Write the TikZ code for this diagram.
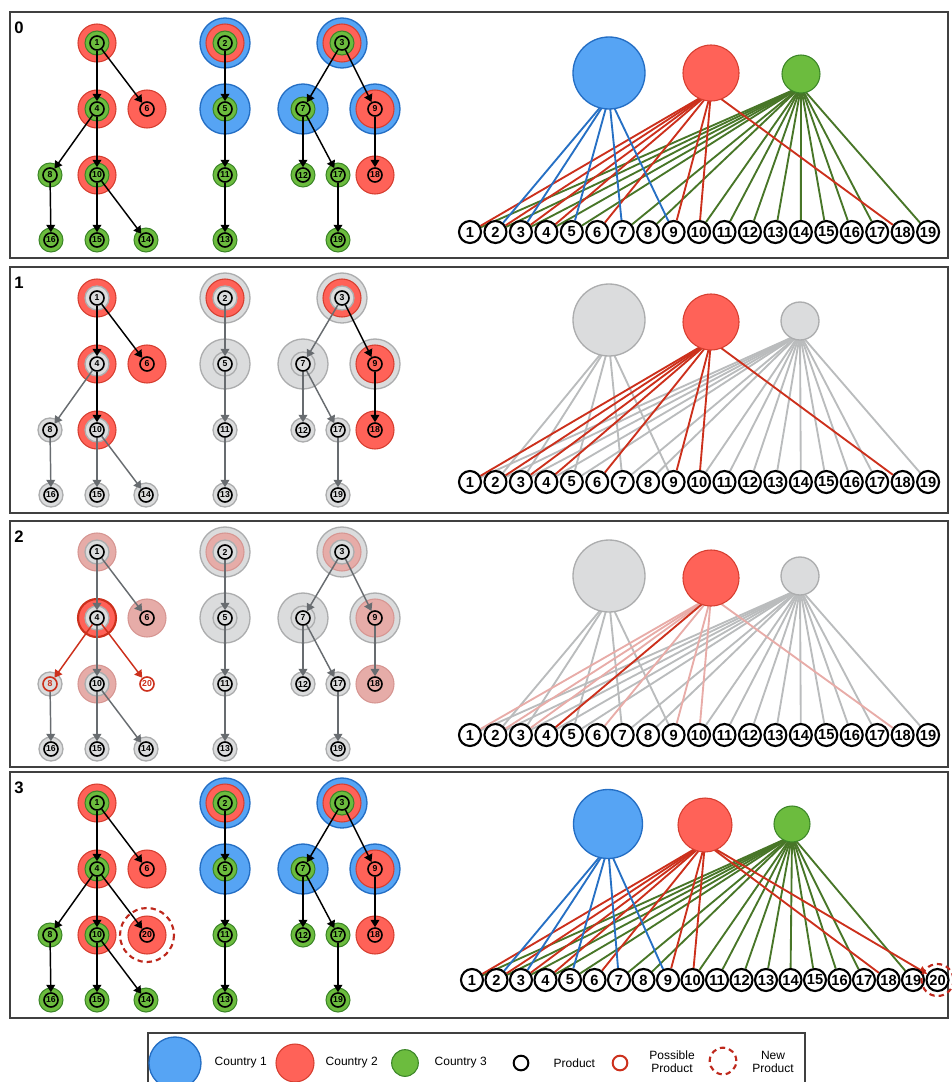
\documentclass[tikz,border=0pt]{standalone}
\usepackage{fontspec}
\setmainfont{Liberation Sans}
\usetikzlibrary{arrows.meta,calc}

\pgfdeclarelayer{bg}
\pgfsetlayers{bg,main}

\definecolor{cblue}{RGB}{86,164,244}
\definecolor{cblueline}{RGB}{36,110,196}
\definecolor{cred}{RGB}{255,98,88}
\definecolor{credline}{RGB}{214,62,48}
\definecolor{cgreen}{RGB}{108,188,62}
\definecolor{cgreenline}{RGB}{60,134,40}
\definecolor{egreen}{RGB}{72,118,40}
\definecolor{ered}{RGB}{204,48,28}
\definecolor{eblue}{RGB}{38,112,196}
\definecolor{cgray}{RGB}{219,220,221}
\definecolor{cgrayline}{RGB}{172,173,174}
\definecolor{egray}{RGB}{186,188,189}
\definecolor{agray}{RGB}{104,108,112}
\definecolor{cpink}{RGB}{230,172,168}
\definecolor{cpinkline}{RGB}{214,150,146}
\definecolor{epink}{RGB}{232,172,168}
\definecolor{newred}{RGB}{190,40,28}

% product positions in a tree panel (x, y below panel top)
\newcommand{\treelist}{1/97/31,2/225/31,3/342/31,4/97/97,5/225/97,6/147/97,7/303/97,
  9/375/97,8/50/163,10/97/163,11/225/163,12/303/163,17/338/163,18/375/163,20/147/163,
  13/225/228,14/146/228,15/97/228,16/51/228,19/338/228}
\newcommand{\arrowlist}{1/4,1/6,4/8,4/10,8/16,10/15,10/14,2/5,5/11,11/13,3/7,3/9,7/12,7/17,17/19,9/18}
% products of each country
\newcommand{\blueset}{2,3,5,7,9}
\newcommand{\redset}{1,2,3,4,6,9,10,18}
\newcommand{\greenset}{1,2,3,4,5,7,8,10,11,12,13,14,15,16,17,19}

\tikzset{
  panelbox/.style={draw=black!75, line width=0.9pt},
  paneltag/.style={font=\fontsize{12.5}{13}\selectfont\bfseries},
  tprod/.style={circle, draw=black, line width=1.2pt, inner sep=0pt, minimum size=10.5pt, font=\fontsize{6.5}{7}\selectfont\bfseries},
  tprodred/.style={tprod, draw=ered, text=ered},
  gprod/.style={circle, draw=black, line width=1.6pt, fill=white, inner sep=0pt, minimum size=16.5pt, font=\fontsize{11}{11}\selectfont\bfseries},
  arr/.style={line width=1.1pt, -{Triangle[length=5.5pt,width=6.5pt]}},
  blackarr/.style={arr, black},
  grayarr/.style={arr, agray},
  redarr/.style={arr, ered},
  bluedisc/.style={fill=cblue, draw=cblueline, line width=1pt},
  reddisc/.style={fill=cred, draw=credline, line width=0.8pt},
  greendisc/.style={fill=cgreen, draw=cgreenline, line width=0.8pt},
  graydisc/.style={fill=cgray, draw=cgrayline, line width=1pt},
  pinkdisc/.style={fill=cpink, draw=cpinkline, line width=0.8pt},
  focusdisc/.style={fill=cred, draw=ered, line width=1.6pt},
  newring/.style={draw=newred, line width=1.6pt, dash pattern=on 4pt off 3pt},
  country/.style={circle, inner sep=0pt},
  bedge/.style={line width=1.4pt},
  legtext/.style={font=\fontsize{9}{10}\selectfont, align=center},
}

\begin{document}
\begin{tikzpicture}[x=0.75pt,y=0.75pt,yscale=-1,xscale=1]
\useasboundingbox (0,0) rectangle (951,1082);

%%%%%%%%%%%%%%%%%%%%%%%% Panel 0
\begin{scope}[shift={(0,12)}]
\draw[panelbox] (10,0) rectangle (948,246);
\node[paneltag] (tagA) at (19,16) {0};
\foreach \n/\x/\y in \treelist \coordinate (ptA\n) at (\x,\y);
% country discs
\foreach \n in \blueset \path[bluedisc] (ptA\n) circle (25);
\foreach \n in \redset \path[reddisc] (ptA\n) circle (19);
\foreach \n in \greenset \path[greendisc] (ptA\n) circle (12);
% products
\foreach \n in {1,...,19} \node[tprod] (tA\n) at (ptA\n) {\n};
\foreach \a/\b in \arrowlist \draw[blackarr] (tA\a) -- (tA\b);

% bipartite network
\node[country, bluedisc, minimum size=54pt] (kA1) at (609,61) {};
\node[country, reddisc, minimum size=42pt] (kA2) at (711,61) {};
\node[country, greendisc, minimum size=28.5pt] (kA3) at (801,62) {};
\foreach \n in {1,...,19} \node[gprod] (gA\n) at ({470+(\n-1)*25.45},220) {\n};
\begin{pgfonlayer}{bg}
\foreach \n in \greenset \draw[bedge, egreen] ($(kA3)!0.65!(kA3.south)$) -- (gA\n);
\foreach \n in \redset \draw[bedge, ered] ($(kA2)!0.65!(kA2.south)$) -- (gA\n);
\foreach \n in \blueset \draw[bedge, eblue] ($(kA1)!0.65!(kA1.south)$) -- (gA\n);
\end{pgfonlayer}
\end{scope}

%%%%%%%%%%%%%%%%%%%%%%%% Panel 1
\begin{scope}[shift={(0,267)}]
\draw[panelbox] (10,0) rectangle (948,246);
\node[paneltag] (tagB) at (19,16) {1};
\foreach \n/\x/\y in \treelist \coordinate (ptB\n) at (\x,\y);
\foreach \n in \blueset \path[graydisc] (ptB\n) circle (25);
\foreach \n in \redset \path[reddisc] (ptB\n) circle (19);
\foreach \n in \greenset \path[graydisc] (ptB\n) circle (12);
\foreach \n in {1,...,19} \node[tprod] (tB\n) at (ptB\n) {\n};
\foreach \a/\b in {4/8,8/16,10/15,10/14,2/5,5/11,11/13,3/7,7/12,7/17,17/19} \draw[grayarr] (tB\a) -- (tB\b);
\foreach \a/\b in {1/4,1/6,4/10,3/9,9/18} \draw[blackarr] (tB\a) -- (tB\b);

% bipartite network
\node[country, graydisc, minimum size=54pt] (kB1) at (609,53) {};
\node[country, reddisc, minimum size=42pt] (kB2) at (711,55) {};
\node[country, graydisc, minimum size=28.5pt] (kB3) at (800,54) {};
\foreach \n in {1,...,19} \node[gprod] (gB\n) at ({470+(\n-1)*25.45},215) {\n};
\begin{pgfonlayer}{bg}
\foreach \n in \greenset \draw[bedge, egray] ($(kB3)!0.65!(kB3.south)$) -- (gB\n);
\foreach \n in \blueset \draw[bedge, egray] ($(kB1)!0.65!(kB1.south)$) -- (gB\n);
\foreach \n in \redset \draw[bedge, ered] ($(kB2)!0.65!(kB2.south)$) -- (gB\n);
\end{pgfonlayer}
\end{scope}

%%%%%%%%%%%%%%%%%%%%%%%% Panel 2
\begin{scope}[shift={(0,521)}]
\draw[panelbox] (10,0) rectangle (948,246);
\node[paneltag] (tagC) at (19,16) {2};
\foreach \n/\x/\y in \treelist \coordinate (ptC\n) at (\x,\y);
\foreach \n in \blueset \path[graydisc] (ptC\n) circle (25);
\foreach \n in {1,2,3,6,9,10,18} \path[pinkdisc] (ptC\n) circle (19);
\path[focusdisc] (ptC4) circle (19);
\foreach \n in \greenset \path[graydisc] (ptC\n) circle (12);
\foreach \n in {1,...,7,9,10,...,19} \node[tprod] (tC\n) at (ptC\n) {\n};
\node[tprodred] (tC8) at (ptC8) {8};
\node[tprodred] (tC20) at (ptC20) {20};
\foreach \a/\b in {1/4,1/6,4/10,8/16,10/15,10/14,2/5,5/11,11/13,3/7,3/9,7/12,7/17,17/19,9/18} \draw[grayarr] (tC\a) -- (tC\b);
\foreach \a/\b in {4/8,4/20} \draw[redarr] (tC\a) -- (tC\b);

% bipartite network
\node[country, graydisc, minimum size=54pt] (kC1) at (609,55) {};
\node[country, reddisc, minimum size=42pt] (kC2) at (711,57) {};
\node[country, graydisc, minimum size=28.5pt] (kC3) at (800,55) {};
\foreach \n in {1,...,19} \node[gprod] (gC\n) at ({470+(\n-1)*25.45},214) {\n};
\begin{pgfonlayer}{bg}
\foreach \n in \greenset \draw[bedge, egray] ($(kC3)!0.65!(kC3.south)$) -- (gC\n);
\foreach \n in \blueset \draw[bedge, egray] ($(kC1)!0.65!(kC1.south)$) -- (gC\n);
\foreach \n in {1,2,3,6,9,10,18} \draw[bedge, epink] ($(kC2)!0.65!(kC2.south)$) -- (gC\n);
\draw[bedge, ered] ($(kC2)!0.65!(kC2.south)$) -- (gC4);
\end{pgfonlayer}
\end{scope}

%%%%%%%%%%%%%%%%%%%%%%%% Panel 3
\begin{scope}[shift={(0,772)}]
\draw[panelbox] (10,0) rectangle (948,246);
\node[paneltag] (tagD) at (19,16) {3};
\foreach \n/\x/\y in \treelist \coordinate (ptD\n) at (\x,\y);
\foreach \n in \blueset \path[bluedisc] (ptD\n) circle (25);
\foreach \n in {1,2,3,4,6,9,10,18,20} \path[reddisc] (ptD\n) circle (19);
\foreach \n in \greenset \path[greendisc] (ptD\n) circle (12);
\draw[newring] (ptD20) circle (27);
\foreach \n in {1,...,20} \node[tprod] (tD\n) at (ptD\n) {\n};
\foreach \a/\b in \arrowlist \draw[blackarr] (tD\a) -- (tD\b);
\draw[blackarr] (tD4) -- (tD20);

% bipartite network
\node[country, bluedisc, minimum size=51.75pt] (kD1) at (608,52) {};
\node[country, reddisc, minimum size=40.5pt] (kD2) at (705,53) {};
\node[country, greendisc, minimum size=27pt] (kD3) at (792,52) {};
\foreach \n in {1,...,20} \node[gprod] (gD\n) at ({472+(\n-1)*24.5},208) {\n};
\draw[newring] (gD20) circle (16);
\begin{pgfonlayer}{bg}
\foreach \n in \greenset \draw[bedge, egreen] ($(kD3)!0.65!(kD3.south)$) -- (gD\n);
\foreach \n in \redset \draw[bedge, ered] ($(kD2)!0.65!(kD2.south)$) -- (gD\n);
\draw[bedge, ered, -{Triangle[length=6pt,width=6pt]}] ($(kD2)!0.65!(kD2.south)$) -- (gD20);
\foreach \n in \blueset \draw[bedge, eblue] ($(kD1)!0.65!(kD1.south)$) -- (gD\n);
\end{pgfonlayer}
\end{scope}

%%%%%%%%%%%%%%%%%%%%%%%% Legend
\draw[panelbox] (148,1095) -- (148,1033) -- (805,1033) -- (805,1095);
\node[country, bluedisc, minimum size=39pt] (legK1) at (175,1063) {};
\node[legtext, anchor=west] (legT1) at (210,1063) {Country 1};
\node[country, reddisc, minimum size=28.5pt] (legK2) at (295,1063) {};
\node[legtext, anchor=west] (legT2) at (321,1063) {Country 2};
\node[country, greendisc, minimum size=20pt] (legK3) at (405,1063) {};
\node[legtext, anchor=west] (legT3) at (430,1063) {Country 3};
\node[circle, draw=black, line width=1.5pt, minimum size=11pt, inner sep=0pt] (legP) at (521,1063) {};
\node[legtext, anchor=west] (legT4) at (549,1063) {Product};
\node[circle, draw=ered, line width=1.5pt, minimum size=11pt, inner sep=0pt] (legQ) at (620,1063) {};
\node[legtext] (legT5) at (672,1062) {Possible\\Product};
\node[circle, newring, minimum size=20pt, inner sep=0pt] (legN) at (723,1061) {};
\node[legtext] (legT6) at (773,1062) {New\\Product};

\end{tikzpicture}
\end{document}
